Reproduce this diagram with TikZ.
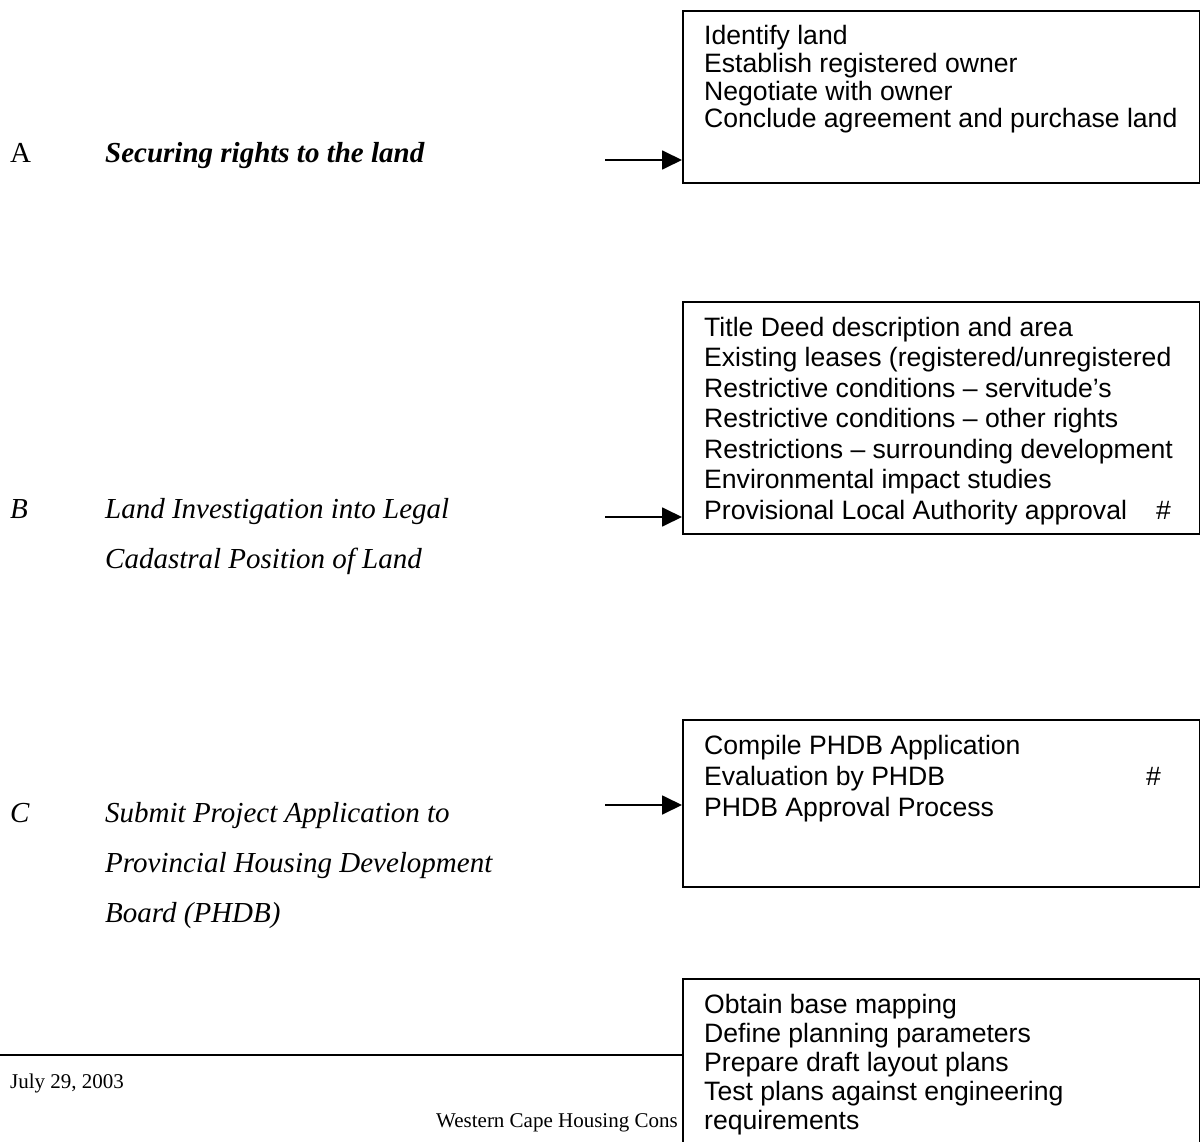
\documentclass[tikz,border=0pt]{standalone}
\usepackage{fontspec}
\setmainfont{Liberation Serif}
\newfontfamily\arialfont{Liberation Sans}
\usetikzlibrary{arrows.meta}

\begin{document}
\begin{tikzpicture}[x=1pt,y=-1pt,
	stepbox/.style={draw,line width=1.6pt,fill=white,anchor=north west,inner sep=0pt,minimum width=516.5pt},
	steptext/.style={anchor=base west,inner sep=0pt,align=left,font=\arialfont\fontsize{26.6}{30.5}\selectfont},
	stageletter/.style={anchor=base west,inner sep=0pt,font=\fontsize{29}{50}\selectfont},
	stagetitle/.style={anchor=base west,inner sep=0pt,align=left,font=\itshape\fontsize{29}{50}\selectfont},
	feed/.style={-{Triangle[length=20pt,width=19pt]},line width=1.8pt}]
	\useasboundingbox (0,0) rectangle (1200,1142);
	\clip (0,0) rectangle (1200,1142);
	
	%footer
	\draw[line width=2pt] (0,1055) -- (682,1055);
	\node[anchor=base west,inner sep=0pt,font=\fontsize{21}{24}\selectfont] (date) at (10,1088) {July 29, 2003};
	\node[anchor=base west,inner sep=0pt,font=\fontsize{21}{24}\selectfont] (footer) at (436,1127) {Western Cape Housing Cons};
	
	%boxes
	\node[stepbox,minimum height=172pt] (boxA) at (682,10) {};
	\node[stepbox,minimum height=232pt] (boxB) at (682,301) {};
	\node[stepbox,minimum height=167pt] (boxC) at (682,719) {};
	\node[stepbox,minimum height=200pt] (boxD) at (682,978) {};
	
	%box texts (placed at the baseline of the last line)
	\node[steptext,font=\arialfont\fontsize{26.6}{27.7}\selectfont] (listA) at (704,128) {Identify land\\Establish registered owner\\Negotiate with owner\\Conclude agreement and purchase land};
	\node[steptext] (listB) at (704,519) {Title Deed description and area\\Existing leases (registered/unregistered\\Restrictive conditions – servitude’s\\Restrictive conditions – other rights\\Restrictions – surrounding development\\Environmental impact studies\\Provisional Local Authority approval};
	\node[steptext] (hashB) at (1156,519) {\#};
	\node[steptext,font=\arialfont\fontsize{26.6}{31}\selectfont] (listC) at (704,816) {Compile PHDB Application\\Evaluation by PHDB\\PHDB Approval Process};
	\node[steptext] (hashC) at (1146,785) {\#};
	\node[steptext,font=\arialfont\fontsize{26.6}{29}\selectfont] (listD) at (704,1129) {Obtain base mapping\\Define planning parameters\\Prepare draft layout plans\\Test plans against engineering\\requirements};
	
	%stage labels
	\node[stageletter] (letA) at (10,163) {A};
	\node[stagetitle,font=\bfseries\itshape\fontsize{29}{50}\selectfont] (stageA) at (105,163) {Securing rights to the land};
	\node[stageletter,font=\itshape\fontsize{29}{50}\selectfont] (letB) at (10,518) {B};
	\node[stagetitle] (stageB) at (105,568) {Land Investigation into Legal\\Cadastral Position of Land};
	\node[stageletter,font=\itshape\fontsize{29}{50}\selectfont] (letC) at (10,822) {C};
	\node[stagetitle] (stageC) at (105,922) {Submit Project Application to\\Provincial Housing Development\\Board (PHDB)};
	
	%arrows
	\coordinate (inA) at (605,160);
	\coordinate (inB) at (605,517);
	\coordinate (inC) at (605,805);
	\draw[feed] (inA) -- (inA -| boxA.west);
	\draw[feed] (inB) -- (inB -| boxB.west);
	\draw[feed] (inC) -- (inC -| boxC.west);
\end{tikzpicture}
\end{document}
